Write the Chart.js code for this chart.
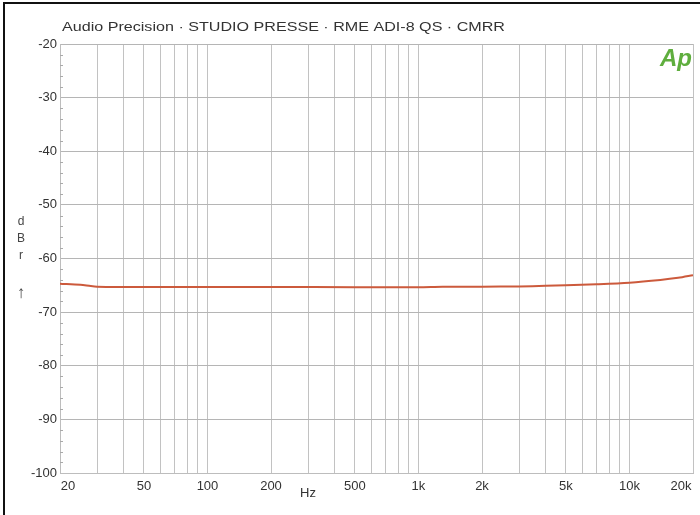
<!DOCTYPE html>
<html>
<head>
<meta charset="utf-8">
<script src="https://cdn.jsdelivr.net/npm/chart.js@4"></script>
<style>
  html, body { margin: 0; padding: 0; background: #fff; }
  #wrap { position: relative; width: 700px; height: 515px; }
  #frame { position: absolute; left: 3px; top: 2px; width: 697px; height: 513px;
           border-left: 2px solid #111; border-top: 2px solid #111; box-sizing: border-box; pointer-events: none; }
</style>
</head>
<body>
<div id="wrap">
  <canvas id="chart" width="700" height="515"></canvas>
  <div id="frame"></div>
</div>
<script>
const TITLE = 'Audio Precision \u00b7 STUDIO PRESSE \u00b7 RME ADI-8 QS \u00b7 CMRR';

const freqHz = [20, 25, 28, 30, 40, 50, 100, 200, 500, 1000, 1300, 2000, 3000, 4000, 5000, 7000, 10000, 14000, 17000, 20000];
const cmrrDb = [-64.7, -64.9, -65.15, -65.25, -65.3, -65.3, -65.3, -65.3, -65.35, -65.35, -65.25, -65.25, -65.2, -65.1, -65.0, -64.8, -64.5, -64.0, -63.6, -63.1];

const xLabelValues = [20, 50, 100, 200, 500, 1000, 2000, 5000, 10000, 20000];
const xLabelText = ['20', '50', '100', '200', '500', '1k', '2k', '5k', '10k', '20k'];
const yLabelLetters = ['d', 'B', 'r', '\u2191'];

const FONT = '"Liberation Sans", Arial, sans-serif';

// every 1..9 multiple between 20 Hz and 20 kHz gets a grid line
function logGridValues(min, max) {
    const out = [];
    for (let dec = 10; dec <= max; dec *= 10) {
        for (let m = 1; m <= 9; m++) {
            const v = m * dec;
            if (v >= min && v <= max) out.push(v);
        }
    }
    return out;
}

const decorPlugin = {
    id: 'decor',
    afterDraw(chart) {
        const ctx = chart.ctx;
        const xs = chart.scales.x, ys = chart.scales.y;
        const area = chart.chartArea;
        ctx.save();

        // title, slightly stretched like the original
        ctx.font = '13px ' + FONT;
        ctx.fillStyle = '#333';
        ctx.textBaseline = 'alphabetic';
        ctx.textAlign = 'left';
        const w = ctx.measureText(TITLE).width;
        ctx.translate(62, 31);
        ctx.scale(443 / w, 1);
        ctx.fillText(TITLE, 0, 0);
        ctx.setTransform(1, 0, 0, 1, 0, 0);

        // minor ticks on left axis every 2 dB
        ctx.strokeStyle = '#aaa';
        ctx.lineWidth = 1;
        for (let v = -98; v < -20; v += 2) {
            if (v % 10 === 0) continue;
            const y = Math.round(ys.getPixelForValue(v)) + 0.5;
            ctx.beginPath();
            ctx.moveTo(area.left, y);
            ctx.lineTo(area.left + 3, y);
            ctx.stroke();
        }

        // x labels
        ctx.font = '13px ' + FONT;
        ctx.fillStyle = '#333';
        ctx.textAlign = 'center';
        ctx.textBaseline = 'middle';
        xLabelValues.forEach((v, i) => {
            let x = xs.getPixelForValue(v);
            if (i === 0) x += 8;
            if (i === xLabelValues.length - 1) x -= 12;
            ctx.fillText(xLabelText[i], x, area.bottom + 13);
        });
        ctx.fillText('Hz', 308, area.bottom + 20);

        // stacked y label
        ctx.font = '12px ' + FONT;
        ctx.fillStyle = '#444';
        ctx.fillText(yLabelLetters[0], 21, 222);
        ctx.fillText(yLabelLetters[1], 21, 239);
        ctx.fillText(yLabelLetters[2], 21, 256);
        ctx.font = '17px ' + FONT;
        ctx.fillText(yLabelLetters[3], 21, 293);

        // Ap logo
        ctx.font = 'italic bold 24px ' + FONT;
        ctx.fillStyle = '#5fae3e';
        ctx.textAlign = 'right';
        ctx.textBaseline = 'alphabetic';
        ctx.fillText('Ap', 692, 66);

        ctx.restore();
    }
};

new Chart(document.getElementById('chart'), {
    type: 'line',
    data: {
        datasets: [{
            data: freqHz.map((f, i) => ({ x: f, y: cmrrDb[i] })),
            borderColor: '#cc5a3c',
            borderWidth: 2,
            pointRadius: 0,
            tension: 0.3,
            fill: false
        }]
    },
    options: {
        responsive: false,
        animation: false,
        layout: { padding: { left: 0, top: 44, right: 7, bottom: 0 } },
        plugins: { legend: { display: false }, tooltip: { enabled: false }, title: { display: false } },
        scales: {
            x: {
                type: 'logarithmic',
                min: 20,
                max: 20000,
                afterBuildTicks(scale) {
                    scale.ticks = logGridValues(20, 20000).map(v => ({ value: v }));
                },
                afterFit(scale) { scale.height = 42; },
                ticks: { display: false },
                grid: { color: '#c2c2c2', lineWidth: 1, drawTicks: false },
                border: { color: '#bdbdbd' }
            },
            y: {
                min: -100,
                max: -20,
                afterFit(scale) { scale.width = 60; },
                ticks: {
                    stepSize: 10,
                    padding: 3,
                    color: '#333',
                    font: { family: FONT, size: 13 }
                },
                grid: { color: '#b5b5b5', lineWidth: 1, drawTicks: false },
                border: { color: '#bdbdbd' }
            }
        }
    },
    plugins: [decorPlugin]
});
</script>
</body>
</html>
